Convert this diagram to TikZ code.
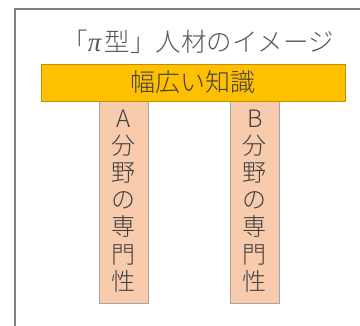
\documentclass[tikz,border=0pt]{standalone}
\usepackage{fontspec}
\newfontfamily\jp{Noto Sans CJK JP Light}
\newfontfamily\piserif{Liberation Serif}
\definecolor{framegray}{HTML}{7F7F7F}
\definecolor{bargold}{HTML}{FFC000}
\definecolor{barborder}{HTML}{BF9000}
\definecolor{colfill}{HTML}{F8CBAD}
\definecolor{colborder}{HTML}{A5A5A5}
\definecolor{txtgray}{HTML}{595959}
\definecolor{txtdark}{HTML}{404040}
\begin{document}
\begin{tikzpicture}[x=1pt,y=-1pt,
  bar/.style={draw=barborder,fill=bargold,line width=0.8pt,minimum width=304pt,minimum height=37pt,inner sep=0pt},
  column/.style={draw=colborder,fill=colfill,line width=0.8pt,minimum width=49pt,minimum height=202pt,inner sep=0pt},
  coltext/.style={font=\jp\fontsize{24}{27.2}\selectfont,text=txtdark,align=center,anchor=north},
]
\useasboundingbox (0,0) rectangle (360,326);
\fill[white] (0,0) rectangle (360,326);
\coordinate (ftl) at (15,9);
\coordinate (ftr) at (360,9);
\coordinate (fbl) at (15,326);
\draw[framegray,line width=1.2pt] (ftr) -- (ftl) -- (fbl);
\node[font=\jp\fontsize{25.5}{28}\selectfont,text=txtgray] (title) at (198,42) {「{\piserif\itshape\fontsize{27}{28}\selectfont π\hspace{3pt}}型」人材のイメージ};
\node[column] (colA) at (123.5,202) {};
\node[column] (colB) at (255,202) {};
\node[bar] (bar) at (193,82.5) {};
\node[font=\jp\fontsize{25}{28}\selectfont,text=txtdark] (bartext) at (bar.center) {幅広い知識};
\node[coltext] (textA) at (123.5,106) {A\\分\\野\\の\\専\\門\\性};
\node[coltext] (textB) at (255,106) {B\\分\\野\\の\\専\\門\\性};
\end{tikzpicture}
\end{document}
